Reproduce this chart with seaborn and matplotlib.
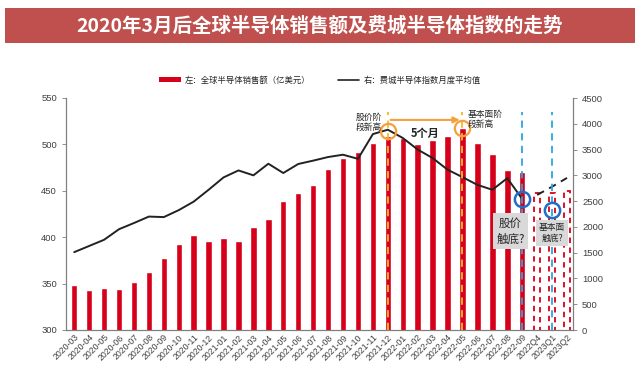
import pandas as pd
import numpy as np
import matplotlib
matplotlib.use("Agg")
import matplotlib.pyplot as plt
from matplotlib.patches import Rectangle
from matplotlib.lines import Line2D
from matplotlib.patches import Patch
import seaborn as sns

# -----------------------------
# data
# -----------------------------
months = ["2020-03", "2020-04", "2020-05", "2020-06", "2020-07", "2020-08", "2020-09",
          "2020-10", "2020-11", "2020-12", "2021-01", "2021-02", "2021-03", "2021-04",
          "2021-05", "2021-06", "2021-07", "2021-08", "2021-09", "2021-10", "2021-11",
          "2021-12", "2022-01", "2022-02", "2022-03", "2022-04", "2022-05", "2022-06",
          "2022-07", "2022-08", "2022-09"]
quarters = ["2022Q4", "2023Q1", "2023Q2"]
categories = months + quarters

# left axis: global semiconductor sales (100m USD)
sales = [348, 343, 345, 344, 352, 363, 378, 393, 402, 396, 399, 396, 411, 420,
         439, 448, 456, 473, 485, 492, 501, 509, 507, 500, 505, 509, 518, 502,
         490, 472, 470]
sales_fc = [448, 448, 450]

# right axis: SOX monthly average
sox = [1510, 1630, 1750, 1955, 2075, 2200, 2190, 2325, 2490, 2720, 2960, 3095,
       3000, 3225, 3045, 3220, 3285, 3355, 3400, 3320, 3800, 3885, 3725, 3500,
       3335, 3110, 2965, 2815, 2720, 2945, 2540]
sox_fc = [2620, 2780, 2950]

# -----------------------------
# style
# -----------------------------
sns.set_style("white")
plt.rcParams["font.family"] = ["Noto Sans CJK SC", "DejaVu Sans"]
plt.rcParams["axes.unicode_minus"] = False

RED = "#d7001a"
GREY_TXT = "#404040"
ORANGE = "#f4a03c"
GOLD = "#f7b92a"
BLUE = "#2aa6e2"
CIRCLE_BLUE = "#1f6fc8"

fig = plt.figure(figsize=(6.4, 3.81), dpi=100)
ax = fig.add_axes([66 / 640, 1 - 330 / 381, (573 - 66) / 640, (330 - 98) / 381])

# title banner
fig.patches.append(Rectangle((5 / 640, 1 - 43 / 381), 630 / 640, 35 / 381,
                             transform=fig.transFigure, facecolor="#c0504d",
                             edgecolor="none", zorder=0))
fig.text(0.5, 1 - 26 / 381, "2020年3月后全球半导体销售额及费城半导体指数的走势",
         ha="center", va="center", color="white", fontsize=14, fontweight="bold")

# -----------------------------
# bars
# -----------------------------
sns.barplot(x=months, y=sales, order=categories, color=RED, saturation=1,
            width=0.43, ax=ax, zorder=2)
sns.barplot(x=quarters, y=sales_fc, order=categories, color=RED, saturation=1,
            width=0.43, fill=False, linestyle=(0, (3, 2.5)), linewidth=1.3,
            ax=ax, zorder=2)

ax.set_ylim(300, 550)
ax.set_yticks(range(300, 551, 50))
ax.set_xlim(-0.55, len(categories) - 0.6)
ax.set_xlabel("")
ax.set_ylabel("")

# -----------------------------
# line on right axis
# -----------------------------
ax2 = ax.twinx()
n = len(months)
sns.lineplot(x=list(range(n)), y=sox, color="#222222", linewidth=1.4, ax=ax2, zorder=3)
sns.lineplot(x=list(range(n, n + len(quarters))), y=sox_fc, color="#222222",
             linewidth=1.4, linestyle=(0, (4, 3)), ax=ax2, zorder=3)
ax2.set_ylim(0, 4500)
ax2.set_yticks(range(0, 4501, 500))
ax2.set_ylabel("")

# vertical guide lines
for xv in [21, 26]:
    ax2.plot([xv, xv], [0, 4230], color=GOLD, linestyle=(0, (4, 3)), linewidth=1.3, zorder=4)
for xv in [30, 32]:
    ax2.plot([xv, xv], [0, 4230], color=BLUE, linestyle=(0, (4, 3)), linewidth=1.3, zorder=4)

# circles
ax2.plot([21, 26], [3860, 3920], linestyle="none", marker="o", markersize=11,
         markerfacecolor="none", markeredgecolor=ORANGE, markeredgewidth=1.6, zorder=5)
ax2.plot([30, 32], [2540, 2330], linestyle="none", marker="o", markersize=11,
         markerfacecolor="none", markeredgecolor=CIRCLE_BLUE, markeredgewidth=1.8, zorder=5)

# arrow 5 months
ax2.annotate("", xy=(26, 4075), xytext=(21, 4075),
             arrowprops=dict(arrowstyle="-|>", color=ORANGE, lw=1.5, mutation_scale=9),
             zorder=5)
ax2.text(23.5, 3820, "5个月", ha="center", va="center", fontsize=8, fontweight="bold", zorder=6)
ax2.text(20.6, 4020, "股价阶\n段新高", ha="right", va="center", fontsize=6.3,
         linespacing=1.1, zorder=6)
ax2.text(26.35, 4090, "基本面阶\n段新高", ha="left", va="center", fontsize=6.3,
         linespacing=1.1, zorder=6)

ax2.text(29.2, 1920, "股价\n触底?", ha="center", va="center", fontsize=8.3,
         linespacing=1.3, zorder=6,
         bbox=dict(boxstyle="square,pad=0.3", facecolor="#d9d9d9", edgecolor="none"))
ax2.text(32.0, 1880, "基本面\n触底?", ha="center", va="center", fontsize=6.3,
         linespacing=1.3, zorder=6,
         bbox=dict(boxstyle="square,pad=0.35", facecolor="#d9d9d9", edgecolor="none"))

# -----------------------------
# axes cosmetics
# -----------------------------
for a in (ax, ax2):
    a.spines["top"].set_visible(False)
    for s in ("left", "right", "bottom"):
        a.spines[s].set_color("#7f7f7f")
        a.spines[s].set_linewidth(0.8)
    a.tick_params(axis="y", labelsize=6.8, colors=GREY_TXT, length=3, width=0.6,
                  color="#7f7f7f")

ax.set_xticks(range(len(categories)))
ax.set_xticklabels(categories, rotation=45, ha="right", rotation_mode="anchor",
                   fontsize=6.3, color=GREY_TXT, family=["Liberation Sans", "DejaVu Sans"])
ax.tick_params(axis="x", length=0, pad=2)
ax.set_xticks(np.arange(-0.5, len(categories) - 0.5, 1), minor=True)
ax.tick_params(axis="x", which="minor", length=3, width=0.6, color="#7f7f7f")
for lab in ax.get_yticklabels() + ax2.get_yticklabels():
    lab.set_family(["Liberation Sans", "DejaVu Sans"])

# legend
handles = [Patch(facecolor=RED, edgecolor="none"),
           Line2D([0], [0], color="#222222", linewidth=1.2)]
labels = ["左：全球半导体销售额（亿美元）", "右：费城半导体指数月度平均值"]
fig.legend(handles, labels, loc="center", bbox_to_anchor=(0.5, 1 - 80 / 381), ncol=2,
           frameon=False, fontsize=6, handlelength=2.6, handleheight=0.5,
           columnspacing=3.2, handletextpad=0.5)

plt.savefig("out.png", dpi=100)
plt.close()
